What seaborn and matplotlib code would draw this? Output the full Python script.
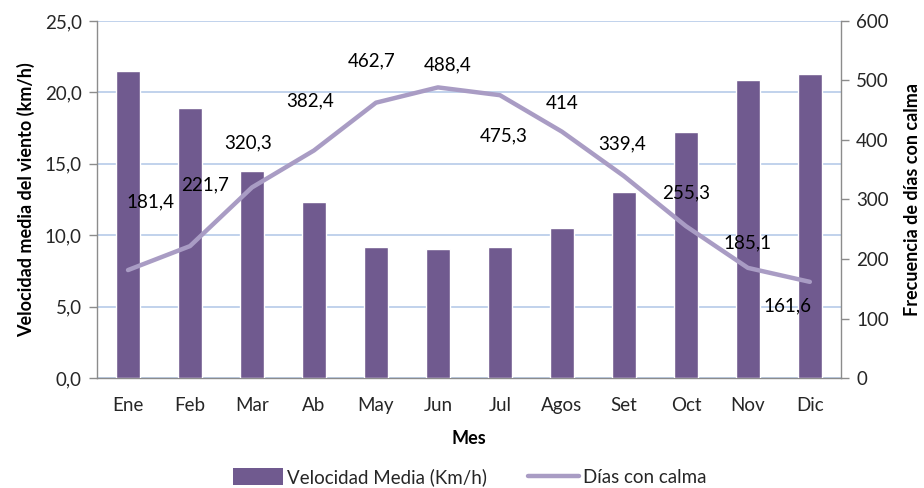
import numpy as np
import pandas as pd
import matplotlib
matplotlib.use("Agg")
import matplotlib.pyplot as plt
from matplotlib.ticker import FuncFormatter, FixedLocator
from matplotlib.patches import Patch
from matplotlib.lines import Line2D
import seaborn as sns

meses = ["Ene", "Feb", "Mar", "Ab", "May", "Jun", "Jul", "Agos", "Set", "Oct", "Nov", "Dic"]
velocidad_media = [21.5, 18.9, 14.5, 12.3, 9.2, 9.0, 9.2, 10.5, 13.0, 17.2, 20.9, 21.3]
dias_calma = [181.4, 221.7, 320.3, 382.4, 462.7, 488.4, 475.3, 414.0, 339.4, 255.3, 185.1, 161.6]
etiquetas_calma = ["181,4", "221,7", "320,3", "382,4", "462,7", "488,4",
                   "475,3", "414", "339,4", "255,3", "185,1", "161,6"]

# offsets (points) of each value label from its line point
offsets = [(16, 49), (11, 44), (-3, 32), (-3, 36), (-3, 30), (7, 16),
           (3, -29), (0, 20), (-1, 23), (0, 24), (0, 18), (-16, -17)]

sns.set_theme(style="white")
plt.rcParams["font.family"] = ["Lato", "DejaVu Sans"]

BAR = "#705A8F"
LINE = "#A99CC4"
GRID = "#BCCFEA"
AXIS = "#8C8C8C"
TEXT = "#262626"
FS = 13.5

df = pd.DataFrame({"mes": meses, "vel": velocidad_media, "calma": dias_calma,
                   "pos": np.arange(len(meses))})

fig = plt.figure(figsize=(9.24, 4.88), dpi=100)
ax = fig.add_axes([0.105, 0.2254, 0.805, 0.7316])

sns.barplot(data=df, x="mes", y="vel", color=BAR, width=0.39, saturation=1,
            ax=ax, zorder=3)
ax.set_xlim(-0.5, len(meses) - 0.5)
ax.set_ylim(0, 25)
ax.set_yticks([0, 5, 10, 15, 20, 25])
ax.yaxis.set_major_formatter(FuncFormatter(lambda v, p: f"{v:.1f}".replace(".", ",")))
ax.yaxis.grid(True, color=GRID, linewidth=1.3, zorder=0)
ax.set_axisbelow(True)

ax2 = ax.twinx()
sns.lineplot(data=df, x="pos", y="calma", color=LINE, linewidth=3.2, ax=ax2,
             solid_capstyle="round", zorder=4)
ax2.set_ylim(0, 600)
ax2.set_yticks([0, 100, 200, 300, 400, 500, 600])
ax2.set_xlim(-0.5, len(meses) - 0.5)

for i, (val, txt) in enumerate(zip(dias_calma, etiquetas_calma)):
    ax2.annotate(txt, (i, val), xytext=offsets[i], textcoords="offset points",
                 ha="center", va="center", fontsize=FS, color="black", zorder=5)

# spines and ticks
for a in (ax, ax2):
    for s in a.spines.values():
        s.set_visible(False)
ax.spines["left"].set_visible(True)
ax.spines["bottom"].set_visible(True)
ax2.spines["right"].set_visible(True)
for s in (ax.spines["left"], ax.spines["bottom"], ax2.spines["right"]):
    s.set_color(AXIS)
    s.set_linewidth(1.0)

ax.set_xticks(np.arange(len(meses)))
ax.set_xticklabels(meses)
ax.xaxis.set_minor_locator(FixedLocator(np.arange(-0.5, len(meses), 1.0)))
ax.tick_params(axis="x", which="major", length=0, pad=14, labelsize=FS, labelcolor=TEXT)
ax.tick_params(axis="x", which="minor", length=7, width=1, color=AXIS, direction="out")
ax.tick_params(axis="y", length=6, width=1, color=AXIS, direction="out", pad=5,
               labelsize=FS, labelcolor=TEXT, left=True)
ax2.tick_params(axis="y", length=6, width=1, color=AXIS, direction="out", pad=5,
                labelsize=FS, labelcolor=TEXT, right=True)

ax.set_xlabel("Mes", fontsize=13, fontweight="bold", color="black", labelpad=11)
ax.set_ylabel("Velocidad media del viento (km/h)", fontsize=13, fontweight="bold",
              color="black", labelpad=7)
ax2.set_ylabel("Frecuencia de días con calma", fontsize=13, fontweight="bold",
               color="black", labelpad=11)
ax2.set_xlabel("")

handles = [Patch(facecolor=BAR, edgecolor="none"),
           Line2D([0], [0], color=LINE, linewidth=3.2)]
fig.legend(handles, ["Velocidad Media (Km/h)", "Días con calma"],
           loc="center", bbox_to_anchor=(0.508, 0.022), ncol=2, frameon=False,
           fontsize=FS, handlelength=2.7, handleheight=1.0, columnspacing=2.2,
           handletextpad=0.2)

fig.savefig("out.png", dpi=100)
